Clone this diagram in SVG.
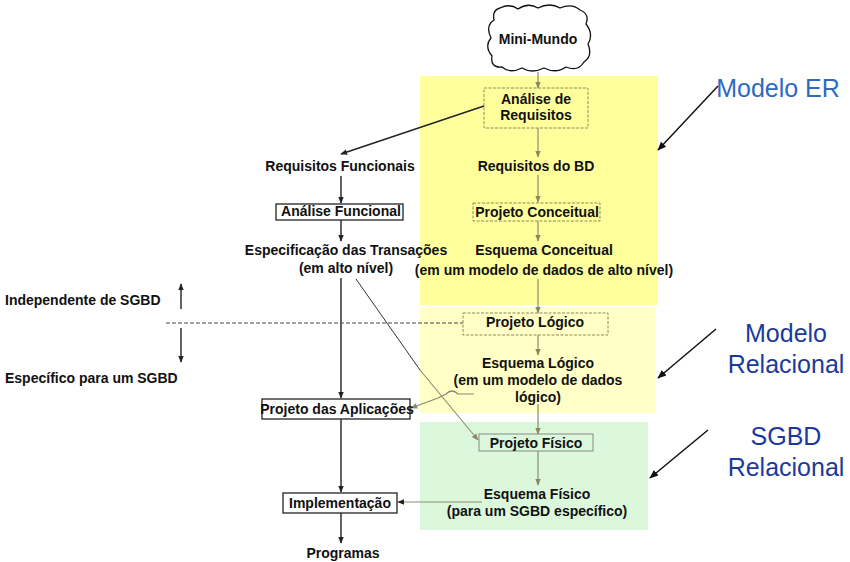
<svg xmlns="http://www.w3.org/2000/svg" width="850" height="562" viewBox="0 0 850 562">
<style>
text{font-family:"Liberation Sans",Arial,sans-serif;}
.t{font-size:14px;font-weight:bold;fill:#111;text-anchor:middle;}
.tl{font-size:14px;font-weight:bold;fill:#111;}
.big{font-size:25px;text-anchor:middle;}
.er{fill:#2c6bc2;}
.rel{fill:#1c3a9c;}
.box{fill:none;stroke:#222;stroke-width:1.3;}
.dbox{fill:none;stroke:#8a8a5a;stroke-width:1;stroke-dasharray:3 1.5;}
.gbox{fill:none;stroke:#888;stroke-width:1;}
.k{stroke:#222;stroke-width:1.4;fill:none;}
.g{stroke:#8a8a70;stroke-width:1.2;fill:none;}
</style>
<defs>
<marker id="ak" viewBox="0 0 10 10" refX="9" refY="5" markerWidth="7" markerHeight="7" orient="auto" markerUnits="userSpaceOnUse"><path d="M0,1 L10,5 L0,9 Z" fill="#222"/></marker>
<marker id="ag" viewBox="0 0 10 10" refX="9" refY="5" markerWidth="7" markerHeight="7" orient="auto" markerUnits="userSpaceOnUse"><path d="M0,1 L10,5 L0,9 Z" fill="#8a8a60"/></marker>
<marker id="ab" viewBox="0 0 10 10" refX="9" refY="5" markerWidth="9" markerHeight="9" orient="auto" markerUnits="userSpaceOnUse"><path d="M0,1 L10,5 L0,9 Z" fill="#111"/></marker>
</defs>
<rect width="850" height="562" fill="#fff"/>
<g id="regions">
<rect x="420" y="76" width="238" height="229" fill="#ffff9c"/>
<rect x="420" y="308" width="236" height="105" fill="#ffffc6"/>
<rect x="420" y="422" width="228" height="108" fill="#dcf8dc"/>
</g>
<g id="connectors">
<line class="g" x1="538" y1="72" x2="538" y2="88" marker-end="url(#ag)"/>
<line class="g" x1="538" y1="128" x2="538" y2="157" marker-end="url(#ag)"/>
<line class="g" x1="538" y1="175" x2="538" y2="202" marker-end="url(#ag)"/>
<line class="g" x1="538" y1="221" x2="538" y2="241" marker-end="url(#ag)"/>
<line class="g" x1="538" y1="279" x2="538" y2="313" marker-end="url(#ag)"/>
<line class="g" x1="538" y1="335" x2="538" y2="355" marker-end="url(#ag)"/>
<line class="g" x1="538" y1="404" x2="538" y2="434" marker-end="url(#ag)"/>
<line class="g" x1="538" y1="451" x2="538" y2="485" marker-end="url(#ag)"/>
<line class="k" x1="484" y1="106" x2="341" y2="154" marker-end="url(#ak)"/>
<line class="k" x1="341" y1="176" x2="341" y2="203" marker-end="url(#ak)"/>
<line class="k" x1="341" y1="220" x2="341" y2="241" marker-end="url(#ak)"/>
<line class="k" x1="341" y1="278" x2="341" y2="398" marker-end="url(#ak)"/>
<line class="k" x1="341" y1="419" x2="341" y2="492" marker-end="url(#ak)"/>
<line class="k" x1="341" y1="513" x2="341" y2="543" marker-end="url(#ak)"/>
<path d="M356,279 L420,370" stroke="#333" stroke-width="1" fill="none"/>
<path d="M420,370 L478,440" stroke="#8a8a70" stroke-width="1.1" fill="none" marker-end="url(#ag)"/>
<path class="g" d="M474,394 L458,394 Q452,388 446,394 L438,398 L411,408" marker-end="url(#ag)"/>
<line class="g" x1="482" y1="502" x2="398" y2="502" marker-end="url(#ak)"/>
<line x1="166" y1="323" x2="463" y2="323" stroke="#444" stroke-width="1" stroke-dasharray="4 2"/>
<line class="k" x1="181" y1="309" x2="181" y2="284" marker-end="url(#ak)"/>
<line class="k" x1="181" y1="328" x2="181" y2="362" marker-end="url(#ak)"/>
<line x1="718" y1="86" x2="658" y2="150" stroke="#111" stroke-width="1.5" marker-end="url(#ab)"/>
<line x1="716" y1="329" x2="658" y2="378" stroke="#111" stroke-width="1.5" marker-end="url(#ab)"/>
<line x1="708" y1="430" x2="650" y2="478" stroke="#111" stroke-width="1.5" marker-end="url(#ab)"/>
</g>
<g id="mini-mundo">
<path d="M500,8 Q510,3 518,9 Q528,2 538,8 Q550,2 560,8 Q572,3 580,10 Q590,14 586,24 Q594,34 588,44 Q593,56 584,62 Q578,72 566,67 Q556,74 544,68 Q532,74 522,68 Q510,74 502,67 Q490,68 492,56 Q484,46 491,38 Q485,26 494,20 Q492,10 500,8 Z" fill="#fff" stroke="#111" stroke-width="1.3"/>
<text class="t" x="538" y="44">Mini-Mundo</text>
</g>
<g id="analise-requisitos">
<rect class="dbox" x="484" y="88" width="104" height="40"/>
<text class="t" x="536" y="104">Análise de</text>
<text class="t" x="536" y="120">Requisitos</text>
</g>
<g id="requisitos-funcionais"><text class="t" x="340" y="171">Requisitos Funcionais</text></g>
<g id="requisitos-bd"><text class="t" x="536" y="171">Requisitos do BD</text></g>
<g id="analise-funcional">
<rect class="box" x="276" y="204" width="127" height="16"/>
<text class="t" x="341" y="216">Análise Funcional</text>
</g>
<g id="projeto-conceitual">
<rect class="dbox" x="473" y="203" width="127" height="18"/>
<text class="t" x="537" y="217">Projeto Conceitual</text>
</g>
<g id="especificacao">
<text class="t" x="346" y="255">Especificação das Transações</text>
<text class="t" x="346" y="273">(em alto nível)</text>
</g>
<g id="esquema-conceitual">
<text class="t" x="544" y="255">Esquema Conceitual</text>
<text class="t" x="544" y="275">(em um modelo de dados de alto nível)</text>
</g>
<g id="independente"><text class="tl" x="5" y="305">Independente de SGBD</text></g>
<g id="especifico"><text class="tl" x="5" y="383">Específico para um SGBD</text></g>
<g id="projeto-logico">
<rect class="dbox" x="463" y="313" width="145" height="22"/>
<text class="t" x="535" y="327">Projeto Lógico</text>
</g>
<g id="esquema-logico">
<text class="t" x="538" y="368">Esquema Lógico</text>
<text class="t" x="538" y="385">(em um modelo de dados</text>
<text class="t" x="538" y="402">lógico)</text>
</g>
<g id="projeto-aplicacoes">
<rect class="box" x="262" y="399" width="148" height="20"/>
<text class="t" x="337" y="414">Projeto das Aplicações</text>
</g>
<g id="projeto-fisico">
<rect class="gbox" x="479" y="434" width="114" height="17"/>
<text class="t" x="536" y="448">Projeto Físico</text>
</g>
<g id="esquema-fisico">
<text class="t" x="537" y="499">Esquema Físico</text>
<text class="t" x="537" y="516">(para um SGBD específico)</text>
</g>
<g id="implementacao">
<rect class="box" x="283" y="493" width="114" height="20"/>
<text class="t" x="340" y="508">Implementação</text>
</g>
<g id="programas"><text class="t" x="343" y="558">Programas</text></g>
<g id="labels">
<text class="big er" x="778" y="97">Modelo ER</text>
<text class="big rel" x="786" y="342">Modelo</text>
<text class="big rel" x="786" y="373">Relacional</text>
<text class="big rel" x="786" y="445">SGBD</text>
<text class="big rel" x="786" y="476">Relacional</text>
</g>
</svg>
